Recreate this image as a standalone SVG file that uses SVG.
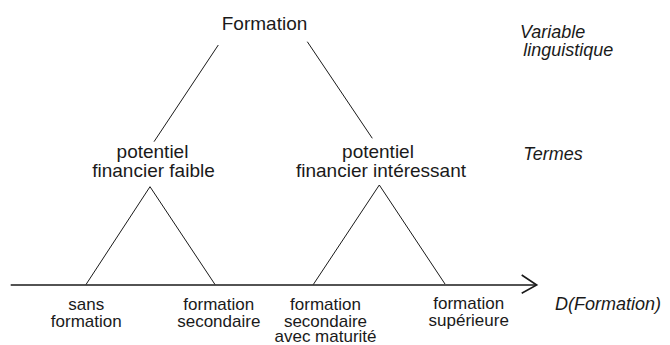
<svg xmlns="http://www.w3.org/2000/svg" width="670" height="345" viewBox="0 0 670 345">
<style>
text{font-family:"Liberation Sans",Arial,sans-serif;fill:#1a1a1a;text-anchor:middle}
.t{font-size:19px}
.l{font-size:17px}
.i{font-size:18px;font-style:italic;text-anchor:start}
.ln{stroke:#1a1a1a;stroke-width:1;fill:none}
.ax{stroke:#1a1a1a;stroke-width:1.6;fill:none}
</style>
<rect width="670" height="345" fill="#fff"/>
<g id="connectors">
<line class="ln" x1="218.3" y1="45" x2="154" y2="141.7"/>
<line class="ln" x1="307.3" y1="41.7" x2="372.3" y2="138.3"/>
<polyline class="ln" points="86,284.5 150,186.7 215,284.5"/>
<polyline class="ln" points="313.3,284.5 379.3,185 445,284"/>
<line class="ax" x1="10.7" y1="285" x2="536" y2="285"/>
<polyline class="ax" points="521.7,275 536.7,285 521.7,293.3"/>
</g>
<g id="formation"><text class="t" x="264.5" y="30">Formation</text></g>
<g id="pff"><text class="t" x="152.5" y="158.3">potentiel</text><text class="t" x="153.5" y="176.7">financier faible</text></g>
<g id="pfi"><text class="t" x="378" y="158.3">potentiel</text><text class="t" x="381" y="176.7">financier intéressant</text></g>
<g id="varling"><text class="i" x="520" y="37.7">Variable</text><text class="i" x="523.3" y="56">linguistique</text></g>
<g id="termes"><text class="i" x="523.3" y="160">Termes</text></g>
<g id="dform"><text class="i" x="555" y="309.5">D(Formation)</text></g>
<g id="sans"><text class="l" x="86.3" y="310">sans</text><text class="l" x="86.3" y="327">formation</text></g>
<g id="sec"><text class="l" x="218.8" y="310">formation</text><text class="l" x="218.8" y="327">secondaire</text></g>
<g id="secmat"><text class="l" x="325.5" y="310">formation</text><text class="l" x="325.5" y="327">secondaire</text><text class="l" x="325.5" y="342">avec maturité</text></g>
<g id="sup"><text class="l" x="468.7" y="308.5">formation</text><text class="l" x="468.7" y="325.5">supérieure</text></g>
</svg>
